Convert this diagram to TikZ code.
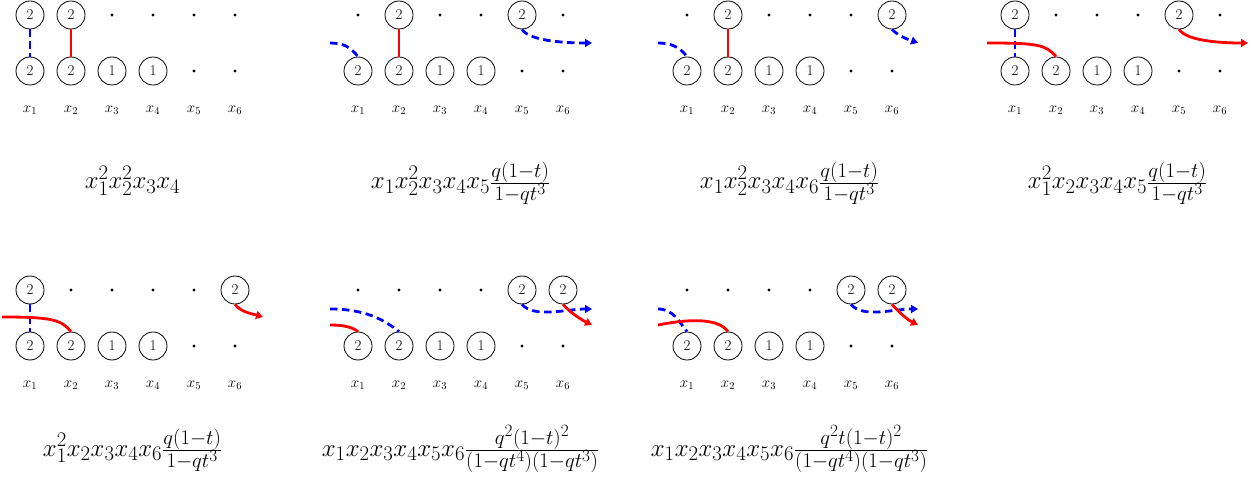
\RequirePackage{fix-cm}
\documentclass[tikz,border=0pt]{standalone}
\usetikzlibrary{arrows.meta}
\tikzset{
 cnode/.style={circle,draw,line width=0.8pt,minimum size=28pt,inner sep=0pt,font=\fontsize{15}{18}\selectfont},
 dnode/.style={circle,fill,minimum size=3.2pt,inner sep=0pt},
 lab/.style={font=\fontsize{15}{18}\selectfont,inner sep=0pt},
 frm/.style={font=\Huge,inner sep=0pt,anchor=base},
 redl/.style={red,line width=2.8pt},
 bluel/.style={blue,line width=2.8pt,dash pattern=on 7.5pt off 4.5pt},
 tipped/.style={-{Triangle[length=7pt,width=8pt]}},
}
\newcommand\panelgrid[5]{%
 \begin{scope}[shift={(#2,#3)}]
 \foreach \i in {#4} \node[cnode] (#1t\i) at ({(\i-1)*41},0) {2};
 \foreach \i in {#5} \node[dnode] (#1t\i) at ({(\i-1)*41},0) {};
 \node[cnode] (#1b1) at (0,56) {2};
 \node[cnode] (#1b2) at (41,56) {2};
 \node[cnode] (#1b3) at (82,56) {1};
 \node[cnode] (#1b4) at (123,56) {1};
 \node[dnode] (#1b5) at (164,56) {};
 \node[dnode] (#1b6) at (205,56) {};
 \foreach \i in {1,...,6} \node[lab] (#1x\i) at ({(\i-1)*41},95) {$x_{\i}$};
 \end{scope}}
\begin{document}
\begin{tikzpicture}[x=1pt,y=-1pt]
\useasboundingbox (0,0) rectangle (1254,481);
% panel 1
\panelgrid{pa}{30}{15}{1,2}{3,4,5,6}
\draw[bluel] (pat1) -- (pab1);
\draw[redl] (pat2) -- (pab2);
\node[frm] (paf) at (132.5,189) {$x_1^2x_2^2x_3x_4$};
% panel 2
\panelgrid{pb}{358}{15}{2,5}{1,3,4,6}
\draw[redl] (pbt2) -- (pbb2);
\coordinate (pbL) at (330,43);
\coordinate (pbR) at (592,43);
\draw[bluel] (pbL) .. controls +(14,0) and +(-7,-9) .. (pbb1.north);
\draw[bluel,tipped] (pbt5.south) .. controls +(8,12) and +(-25,0) .. (pbR);
\node[frm] (pbf) at (460.5,189) {$x_1x_2^2x_3x_4x_5\frac{q(1-t)}{1-qt^3}$};
% panel 3
\panelgrid{pc}{687}{15}{2,6}{1,3,4,5}
\draw[redl] (pct2) -- (pcb2);
\coordinate (pcL) at (658,43);
\coordinate (pcR) at (918,43);
\draw[bluel] (pcL) .. controls +(14,0) and +(-7,-9) .. (pcb1.north);
\draw[bluel,tipped] (pct6.south) .. controls +(8,8) and +(-8,-3) .. (pcR);
\node[frm] (pcf) at (789.5,189) {$x_1x_2^2x_3x_4x_6\frac{q(1-t)}{1-qt^3}$};
% panel 4
\panelgrid{pd}{1015}{15}{1,5}{2,3,4,6}
\draw[bluel] (pdt1) -- (pdb1);
\coordinate (pdL) at (987,43);
\coordinate (pdR) at (1248,43);
\draw[redl] (pdL) .. controls +(50,0) and +(-10,-12) .. (pdb2.north);
\draw[redl,tipped] (pdt5.south) .. controls +(8,12) and +(-25,0) .. (pdR);
\node[frm] (pdf) at (1117.5,189) {$x_1^2x_2x_3x_4x_5\frac{q(1-t)}{1-qt^3}$};
% panel 5
\panelgrid{pe}{30}{290}{1,6}{2,3,4,5}
\draw[bluel] (pet1) -- (peb1);
\coordinate (peL) at (2,317);
\coordinate (peR) at (263,317);
\draw[redl] (peL) .. controls +(50,0) and +(-10,-12) .. (peb2.north);
\draw[redl,tipped] (pet6.south) .. controls +(6,8) and +(-10,-3) .. (peR);
\node[frm] (pef) at (132.5,456) {$x_1^2x_2x_3x_4x_6\frac{q(1-t)}{1-qt^3}$};
% panel 6
\panelgrid{pf}{358}{290}{5,6}{1,2,3,4}
\coordinate (pfLb) at (330,309);
\coordinate (pfLr) at (330,325);
\coordinate (pfRb) at (592,309);
\coordinate (pfRr) at (592,325);
\draw[bluel] (pfLb) .. controls +(35,0) and +(-15,-12) .. (pfb2.north);
\draw[redl] (pfLr) .. controls +(15,0) and +(-5,-4) .. (pfb1.north);
\draw[bluel,tipped] (pft5.south) .. controls +(12,14) and +(-25,0) .. (pfRb);
\draw[redl,tipped] (pft6.south) .. controls +(8,9) and +(-10,-5) .. (pfRr);
\node[frm] (pff) at (460.5,456) {$x_1x_2x_3x_4x_5x_6\frac{q^2(1-t)^2}{(1-qt^4)(1-qt^3)}$};
% panel 7
\panelgrid{pg}{687}{290}{5,6}{1,2,3,4}
\coordinate (pgLb) at (658,309);
\coordinate (pgLr) at (658,325);
\coordinate (pgRb) at (918,309);
\coordinate (pgRr) at (918,325);
\draw[bluel] (pgLb) .. controls +(15,0) and +(-8,-10) .. (pgb1.north);
\draw[redl] (pgLr) .. controls +(30,-6) and +(-10,-14) .. (pgb2.north);
\draw[bluel,tipped] (pgt5.south) .. controls +(12,14) and +(-25,0) .. (pgRb);
\draw[redl,tipped] (pgt6.south) .. controls +(8,9) and +(-10,-5) .. (pgRr);
\node[frm] (pgf) at (789.5,456) {$x_1x_2x_3x_4x_5x_6\frac{q^2t(1-t)^2}{(1-qt^4)(1-qt^3)}$};
\end{tikzpicture}
\end{document}
